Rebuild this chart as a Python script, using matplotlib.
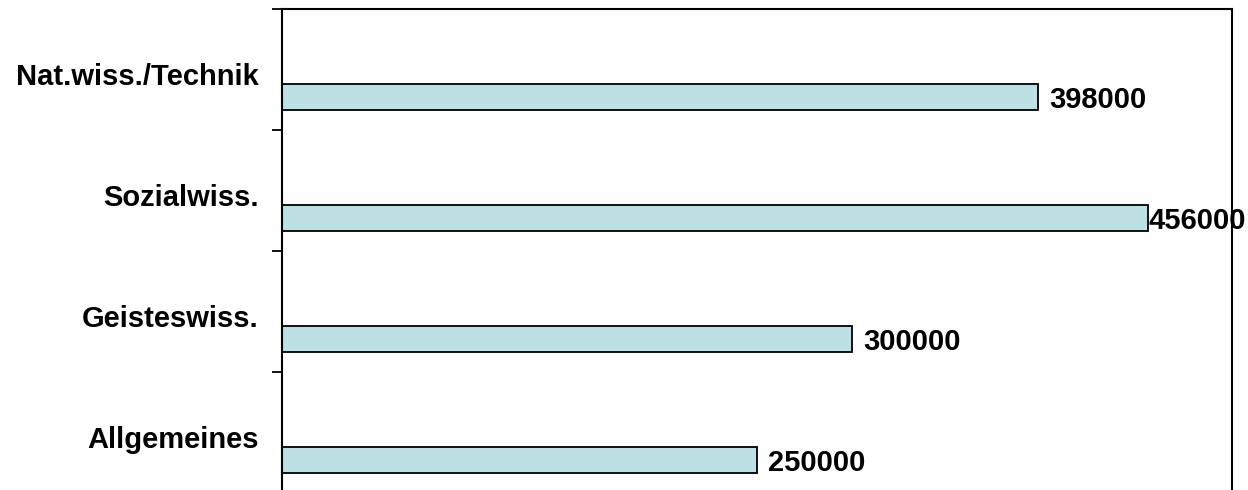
import matplotlib.pyplot as plt
import matplotlib.transforms as mtransforms
import numpy as np

plt.rcParams['font.family'] = ['Liberation Sans', 'DejaVu Sans']

categories = ['Allgemeines', 'Geisteswiss.', 'Sozialwiss.', 'Nat.wiss./Technik']
values = [250000, 300000, 456000, 398000]

fig = plt.figure(figsize=(12.48, 4.9), dpi=100)
ax = fig.add_axes([0.226, -0.006, 0.761, 0.9876])

y = np.arange(len(categories))
# bars sit in the lower part of each band (empty second series in the original)
bars = ax.barh(y - 0.227, values, height=0.215, color='#bce0e3',
               edgecolor='black', linewidth=1.3)

for b, v in zip(bars, values):
    pad = 0.5 if v == max(values) else 8
    ax.annotate(str(v), (v, b.get_y() + b.get_height() / 2),
                xytext=(pad, -2.5), textcoords='offset points',
                va='center', ha='left', fontsize=21, fontweight='bold')

ax.set_xlim(0, 500000)
ax.set_ylim(-0.5, len(categories) - 0.5)

ax.set_yticks(y)
ax.set_yticklabels(categories, fontsize=21, fontweight='bold')
ax.tick_params(axis='y', which='major', length=0, pad=17)
ax.set_yticks(np.arange(len(categories) + 1) - 0.5, minor=True)
ax.tick_params(axis='y', which='minor', length=7.5, width=1.3, direction='out')
ax.set_xticks([])

# nudge category labels down a little
shift = mtransforms.ScaledTranslation(0, -3 / 72, fig.dpi_scale_trans)
for lbl in ax.get_yticklabels():
    lbl.set_transform(lbl.get_transform() + shift)

ax.spines['bottom'].set_visible(False)
for s in ['left', 'top', 'right']:
    ax.spines[s].set_linewidth(1.5)

fig.savefig('out.png', dpi=100)
